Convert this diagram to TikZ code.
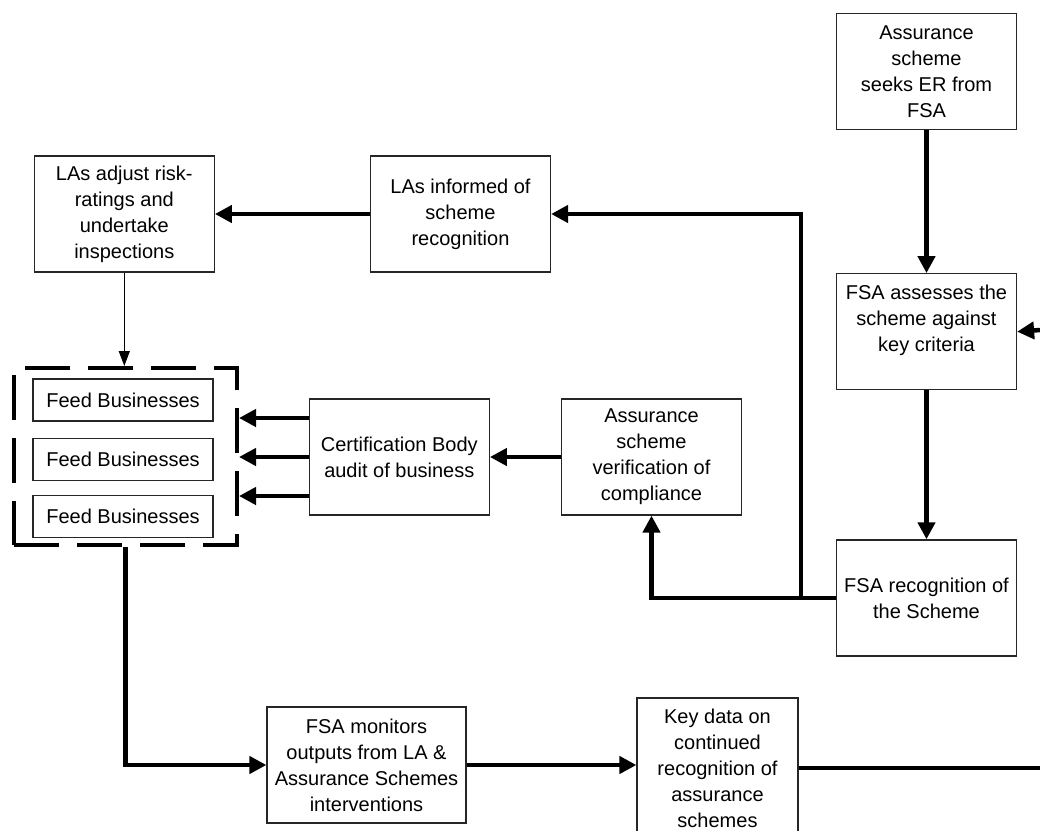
\documentclass[tikz,border=0pt]{standalone}
\usepackage{fontspec}
\setmainfont{Liberation Sans}
\usetikzlibrary{positioning,arrows.meta}

\begin{document}
\begin{tikzpicture}[
  x=1pt, y=-1pt,
  font=\fontsize{20}{26}\selectfont,
  stage/.style={draw=black!85, line width=1.2pt, align=center, inner sep=2pt,
    minimum width=180pt, minimum height=116pt},
  feedbox/.style={draw=black!85, line width=1.2pt, inner sep=2pt,
    minimum width=180pt, minimum height=42pt},
  dashgrp/.style={draw, line width=4pt, dash pattern=on 45pt off 18pt,
    minimum width=223pt, minimum height=177pt},
  flow/.style={line width=4.5pt, -{Triangle[length=17pt,width=17pt]}},
  thinflow/.style={line width=1.3pt, -{Triangle[length=15pt,width=11pt]}},
  ]
  \useasboundingbox (0,0) rectangle (1040,830);
  \clip (0,0) rectangle (1040,830);

  % right column
  \node[stage] (seek) at (926.5,71.5) {Assurance\\scheme\\seeks ER from\\FSA};
  \node[stage, below=143pt of seek] (assess) {FSA assesses the\\scheme against\\key criteria\\\mbox{}};
  \node[stage, below=149pt of assess] (recog) {FSA recognition of\\the Scheme};

  % middle and top rows
  \node[stage] (verify) at (651.5,457) {Assurance\\scheme\\verification of\\compliance};
  \node[stage, left=71pt of verify] (audit) {Certification Body\\audit of business};
  \node[stage] (inform) at (460.5,214) {LAs informed of\\scheme\\recognition};
  \node[stage, left=155pt of inform] (adjust) {LAs adjust risk-\\ratings and\\undertake\\inspections};

  % feed businesses
  \node[feedbox] (feed1) at (123,400) {Feed Businesses};
  \node[feedbox, below=16pt of feed1] (feed2) {Feed Businesses};
  \node[feedbox, below=14pt of feed2] (feed3) {Feed Businesses};
  \node[dashgrp] (feeds) at (125.5,456.5) {};

  % bottom row
  \node[stage, minimum width=199pt] (monitor) at (366.5,765)
    {FSA monitors\\outputs from LA \&\\Assurance Schemes\\interventions};
  \node[stage, minimum width=161pt, minimum height=140pt] (keydata) at (717.5,768)
    {Key data on\\continued\\recognition of\\assurance\\schemes};

  \coordinate (edgeB) at (1040,330);
  \coordinate (edgeK) at (1040,768);
  \coordinate[left=35pt of recog.west] (split);

  \draw[flow] (seek) -- (assess);
  \draw[flow] (edgeB) -- (assess.east);
  \draw[flow] (assess) -- (recog);
  \draw[flow] (recog.west) -| (verify.south);
  \draw[flow] (split) |- (inform.east);
  \draw[flow] (inform) -- (adjust);
  \draw[thinflow] (adjust.south) -- (adjust.south |- feeds.north);
  \draw[flow] (verify) -- (audit);
  \foreach \dy in {-39,0,39}
    \draw[flow] ([yshift=\dy pt]audit.west) -- ([yshift=\dy pt]audit.west -| feeds.east);
  \draw[flow] (feeds.south) |- (monitor.west);
  \draw[flow] (monitor.east) -- (monitor.east -| keydata.west);
  \draw[line width=4.5pt] (keydata.east) -- (edgeK);
\end{tikzpicture}
\end{document}
